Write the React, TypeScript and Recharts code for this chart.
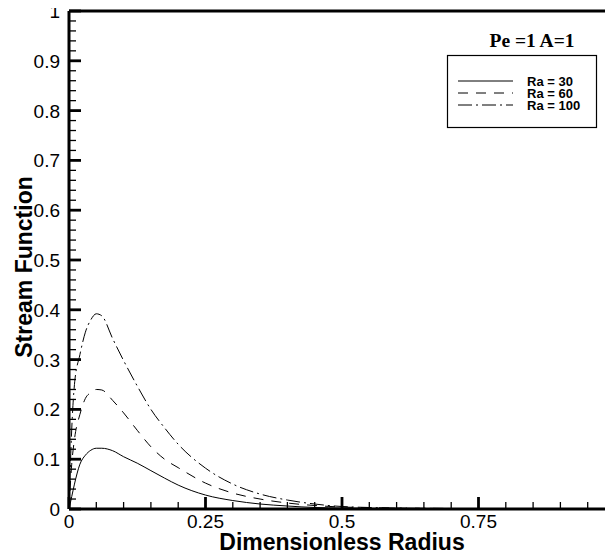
import React from 'react';
import { LineChart, Line, XAxis, YAxis, ReferenceLine } from 'recharts';

const radius = [0, 0.005, 0.01, 0.02, 0.03, 0.04, 0.05, 0.06, 0.08, 0.1, 0.125, 0.15, 0.175, 0.2, 0.25, 0.3, 0.35, 0.4, 0.45, 0.5, 0.6, 0.7, 0.8, 0.9, 1.0];
const ra30 = [0, 0.025, 0.05, 0.09, 0.108, 0.118, 0.122, 0.122, 0.117, 0.105, 0.092, 0.077, 0.062, 0.048, 0.028, 0.017, 0.01, 0.006, 0.003, 0.002, 0.001, 0, 0, 0, 0];
const ra60 = [0, 0.09, 0.14, 0.19, 0.222, 0.234, 0.24, 0.239, 0.218, 0.193, 0.158, 0.125, 0.1, 0.083, 0.052, 0.032, 0.02, 0.012, 0.007, 0.004, 0.002, 0.001, 0.0005, 0, 0];
const ra100 = [0, 0.16, 0.25, 0.31, 0.355, 0.38, 0.392, 0.388, 0.342, 0.298, 0.247, 0.2, 0.163, 0.13, 0.082, 0.05, 0.03, 0.018, 0.01, 0.005, 0.002, 0.001, 0, 0, 0];

const seriesNames = ['Ra = 30', 'Ra = 60', 'Ra = 100'];
const seriesKeys = ['ra30', 'ra60', 'ra100'];
const seriesDash = ['', '10 8', '14 4 2 4'];

const xMinorTicks = [0.05, 0.1, 0.15, 0.2, 0.3, 0.35, 0.4, 0.45, 0.55, 0.6, 0.65, 0.7, 0.8, 0.85, 0.9, 0.95];
const xMajorTicks = [0, 0.25, 0.5, 0.75, 1];
const yMinorTicks = [0.02, 0.04, 0.06, 0.08, 0.12, 0.14, 0.16, 0.18, 0.22, 0.24, 0.26, 0.28, 0.32, 0.34, 0.36, 0.38, 0.42, 0.44, 0.46, 0.48, 0.52, 0.54, 0.56, 0.58, 0.62, 0.64, 0.66, 0.68, 0.72, 0.74, 0.76, 0.78, 0.82, 0.84, 0.86, 0.88, 0.92, 0.94, 0.96, 0.98];
const yMajorTicks = [0, 0.1, 0.2, 0.3, 0.4, 0.5, 0.6, 0.7, 0.8, 0.9, 1];

const legendTitle = 'Pe =1 A=1';
const xTitle = 'Dimensionless Radius';
const yTitle = 'Stream Function';

const data = radius.map((r, i) => ({ r, ra30: ra30[i], ra60: ra60[i], ra100: ra100[i] }));

const SANS = '"Liberation Sans", Arial, sans-serif';
const SERIF = '"Liberation Serif", "Times New Roman", serif';

// plot size in px, used to convert tick-mark lengths (px) into data units
const PLOT_W = 546;
const PLOT_H = 498;
const MAJOR_LEN = 12;
const MINOR_LEN = 7;

const XTick = (props: any) => {
  const x = Number(props.x);
  const y = Number(props.y);
  return (
    <text x={x} y={y + 19} textAnchor="middle" fontSize={19} fontFamily={SANS} fill="#000">
      {String(props.payload.value)}
    </text>
  );
};

const YTick = (props: any) => {
  const x = Number(props.x);
  const y = Number(props.y);
  return (
    <text x={x - 9} y={y + 7} textAnchor="end" fontSize={19} fontFamily={SANS} fill="#000">
      {String(props.payload.value)}
    </text>
  );
};

const XLabel = (props: any) => {
  const vb = props.viewBox || { x: 61, y: 509, width: 546, height: 49 };
  return (
    <text x={vb.x + vb.width / 2} y={vb.y + 41} textAnchor="middle" fontSize={23} fontWeight="bold" fontFamily={SANS} fill="#000">
      {xTitle}
    </text>
  );
};

const YLabel = (props: any) => {
  const vb = props.viewBox || { x: 0, y: 11, width: 61, height: 498 };
  const cx = vb.x + 24;
  const cy = vb.y + vb.height / 2 + 7;
  return (
    <text x={cx} y={cy} transform={`rotate(-90, ${cx}, ${cy})`} textAnchor="middle" fontSize={23} fontWeight="bold" fontFamily={SANS} fill="#000">
      {yTitle}
    </text>
  );
};

const LegendBox = () => {
  const rows = [61, 73, 85];
  return (
    <svg width={175} height={115} style={{ position: 'absolute', left: 430, top: 20 }}>
      <text x={94} y={27} textAnchor="middle" fontSize={19.5} fontWeight="bold" fontFamily={SERIF} fill="#000">
        {legendTitle}
      </text>
      <rect x={9.5} y={35.5} width={149} height={72} fill="#fff" stroke="#000" strokeWidth={1.2} />
      {seriesNames.map((name, i) => (
        <g key={name}>
          <line x1={20} y1={rows[i]} x2={75} y2={rows[i]} stroke="#000" strokeWidth={1} strokeDasharray={seriesDash[i] || undefined} />
          <text x={89} y={rows[i] + 4.5} fontSize={13} fontWeight="bold" fontFamily={SANS} fill="#000">
            {name}
          </text>
        </g>
      ))}
    </svg>
  );
};

export default function App() {
  const tickMarks: React.ReactNode[] = [];
  xMajorTicks.forEach((v) =>
    tickMarks.push(
      <ReferenceLine key={`xM${v}`} segment={[{ x: v, y: 0 }, { x: v, y: MAJOR_LEN / PLOT_H }]} stroke="#000" strokeWidth={2.8} ifOverflow="visible" />
    )
  );
  xMinorTicks.forEach((v) =>
    tickMarks.push(
      <ReferenceLine key={`xm${v}`} segment={[{ x: v, y: 0 }, { x: v, y: MINOR_LEN / PLOT_H }]} stroke="#000" strokeWidth={1.3} ifOverflow="visible" />
    )
  );
  yMajorTicks.forEach((v) =>
    tickMarks.push(
      <ReferenceLine key={`yM${v}`} segment={[{ x: 0, y: v }, { x: MAJOR_LEN / PLOT_W, y: v }]} stroke="#000" strokeWidth={2.8} ifOverflow="visible" />
    )
  );
  yMinorTicks.forEach((v) =>
    tickMarks.push(
      <ReferenceLine key={`ym${v}`} segment={[{ x: 0, y: v }, { x: MINOR_LEN / PLOT_W, y: v }]} stroke="#000" strokeWidth={1.3} ifOverflow="visible" />
    )
  );

  return (
    <div style={{ position: 'relative', width: 605, height: 558, marginTop: -8, overflow: 'hidden', background: '#fff' }}>
      <LineChart width={620} height={558} data={data} margin={{ top: 11, right: 13, bottom: 0, left: 0 }}>
        <XAxis
          dataKey="r"
          type="number"
          domain={[0, 1]}
          ticks={xMajorTicks}
          interval={0}
          tickSize={0}
          tickMargin={0}
          tick={<XTick />}
          tickLine={false}
          axisLine={{ stroke: '#000', strokeWidth: 3 }}
          height={49}
          label={<XLabel />}
        />
        <YAxis
          type="number"
          domain={[0, 1]}
          ticks={yMajorTicks}
          interval={0}
          tickSize={0}
          tickMargin={0}
          tick={<YTick />}
          tickLine={false}
          axisLine={{ stroke: '#000', strokeWidth: 3 }}
          width={61}
          label={<YLabel />}
        />
        <ReferenceLine y={1} stroke="#000" strokeWidth={3} />
        <ReferenceLine x={1} stroke="#000" strokeWidth={3} />
        {tickMarks}
        {seriesKeys.map((k, i) => (
          <Line
            key={k}
            dataKey={k}
            name={seriesNames[i]}
            type="monotone"
            stroke="#000"
            strokeWidth={1}
            strokeDasharray={seriesDash[i] || undefined}
            dot={false}
            activeDot={false}
            isAnimationActive={false}
          />
        ))}
      </LineChart>
      <LegendBox />
    </div>
  );
}
